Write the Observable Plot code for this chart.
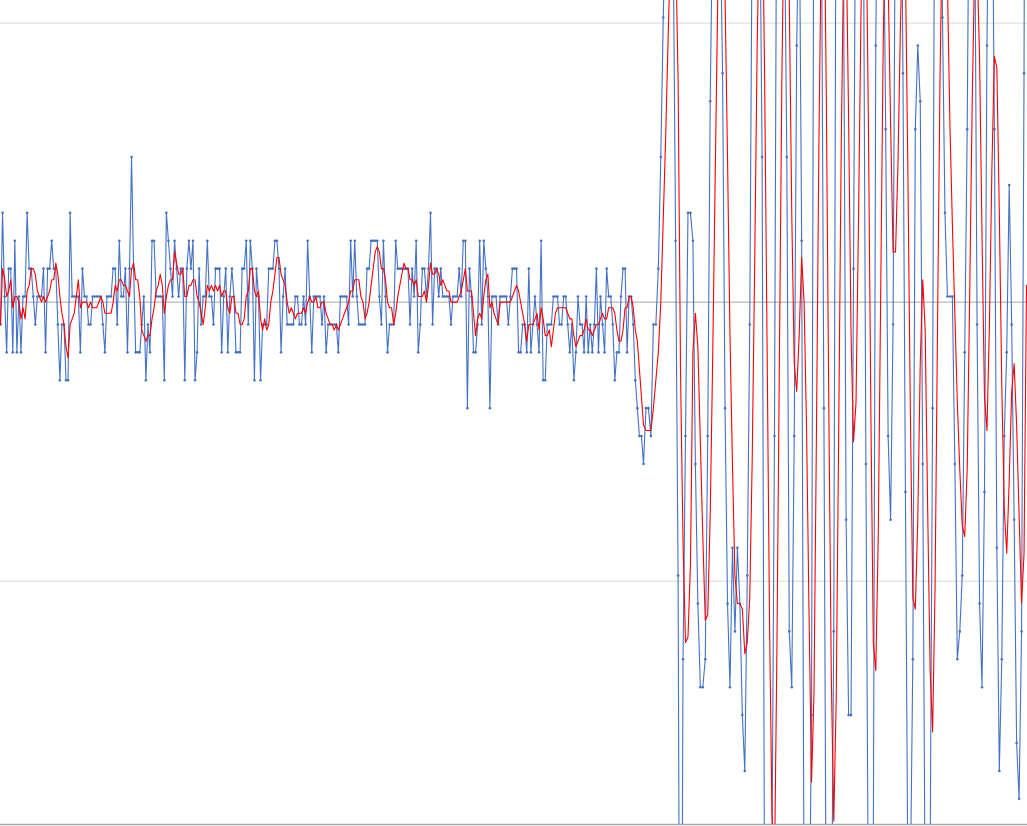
<!DOCTYPE html>
<html>
<head>
<meta charset="utf-8">
<script src="https://cdn.jsdelivr.net/npm/d3@7"></script>
<script src="https://cdn.jsdelivr.net/npm/@observablehq/plot@0.6"></script>
<style>
html, body { margin: 0; padding: 0; background: #ffffff; }
#chart svg { display: block; }
</style>
</head>
<body>
<div id="chart"></div>
<script>
// Raw sensor counts (blue series), split by region
const blueA = [-1,3,0,-2,1,1,-2,2,-2,0,-2,0,0,3,1,1,0,-1,0,0,0,1,-2,1,1,2,1,1,-1,-3,-1,-1,-3,-3,3,0,0,0,0,-2,1,0,0,-1,-1,0,0,0,0,0,-1,-2,0,0,0,1,1,-1,2,0,0,1,-2,1,5,1,-2,-2,-2,-1,0,-3,-1,-2,2,2,0,0,0,0,-3,3,2,1,0,2,1,0,1,1,-3,1,2,1,2,-3,-2,1,-1,0,0,2];
const blueB = [0,0,-1,1,1,1,-2,0,1,-2,0,1,0,-2,-2,-2,1,1,2,-1,2,1,-3,1,0,-3,-1,-1,-1,1,1,1,2,2,1,-2,0,1,-1,-1,-1,-1,0,0,-1,-1,0,-1,2,0,-2,0,0,0,0,-1,0,-2,-1,-1,-1,-1,-1,-2,0,0,0,0,-1,2,0,2,0,-1,-1,-1,-1,1,1,2,2,2,2,0,-1,2,0,-2,-1,-1,-1,2,1,1,1,1,1,1,-1,1,0,2,-2];
const blueC = [-1,1,1,0,1,3,-1,1,1,0,1,0,0,0,0,-1,0,0,0,1,0,2,2,-4,1,0,-2,-2,-1,2,-1,2,1,0,-4,0,0,0,-1,0,0,0,0,-1,0,1,1,1,-2,-2,-1,-1,-2,1,-2,-1,0,-1,-2,2,-3,-3,-1,-1,-1,0,0,0,-1,-1,0,0,-1,-2,-1,-3,-2,0,-1,-1,-2,0,-2,-1,-2,-1,1,-2,0,-1,-2,1,0,0,-1,-3,-2,-2,0,1,1,-2,0,0,-1,-3,-4,-5,-5,-6];
const blueD = [-4,-4,-5,-1,-1,1,5,10,14,17,17,13,2,-10,-36,-13,-5,3,3,2,-6,-11,-14,-14,-13,-5,7,14,18,18,14,8,-4,-11,-14,-9,-12,-9,-11,-15,-17,-10,-1];
const blueE = [14,20,22,15,5,-22,-28,-28,-20,-5,18,24,22,14,5,-12,-14,-5,9,15,2,-22,-28,-24,-15,18,25,24,14,-4,-24,-30,-24,-12,18,24,20,11,-8,-15,-15,1,18,24,22,14,-6,-22,-28,-20,9,18,22,16];
const blueF = [6,-5,-8,-1,16,22,20,8,-7,-21,-21,-13,6,9,7,-6,-22,-26,-20,-4,20,25,18,10,3,0,0,0,-6,-13,-12,-10,-2,6,18,22,15,-1,-11,-14,-7,9,18,17,6,-9,-17,-13,-5,-2,4,-1,-8,-16,-18,-12,8,40];

const blue = [...blueA, ...blueB, ...blueC, ...blueD, ...blueE, ...blueF];
// sample index where the quiet part ends and shaking begins
const quietEnd = blueA.length + blueB.length + blueC.length - 1;

// Gridline values (in counts) and visible y range
const gridLight = [9.8, -10.2];
const gridZero = [-0.2];
const yMin = -18.92;
const yMax = 10.61;
const movingAveragePeriod = 5;

const data = blue.map((v, i) => ({i, v}));

const chart = Plot.plot({
  width: 1027,
  height: 826,
  marginTop: 0,
  marginLeft: 0,
  marginRight: 0,
  marginBottom: 2,
  x: {type: "linear", domain: [0, quietEnd, blue.length - 1], range: [0, 643, 1026], axis: null},
  y: {type: "linear", domain: [yMin, yMax], axis: null},
  marks: [
    Plot.ruleY(gridLight, {stroke: "#d9d9d9", strokeWidth: 1}),
    Plot.ruleY(gridZero, {stroke: "#a6a6a6", strokeWidth: 1}),
    Plot.ruleY([yMin], {stroke: "#a6a6a6", strokeWidth: 1.5}),
    Plot.line(data, {x: "i", y: "v", stroke: "#4472C4", strokeWidth: 1.1, clip: true}),
    Plot.dot(data, {x: "i", y: "v", r: 1.3, fill: "#4472C4", stroke: "none", clip: true}),
    Plot.line(data, Plot.windowY({k: movingAveragePeriod, anchor: "end"}, {x: "i", y: "v", stroke: "#FF0000", strokeWidth: 1.1, clip: true}))
  ]
});
document.getElementById("chart").appendChild(chart);
</script>
</body>
</html>
